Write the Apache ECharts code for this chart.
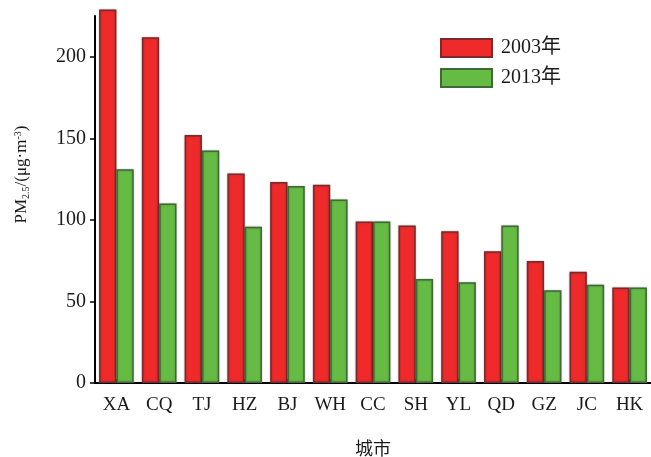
<!DOCTYPE html>
<html>
<head>
<meta charset="utf-8">
<script src="https://cdn.jsdelivr.net/npm/echarts@6/dist/echarts.min.js"></script>
<style>
  html, body { margin: 0; padding: 0; background: #fff; }
  #chart { width: 651px; height: 457px; }
</style>
</head>
<body>
<div id="chart"></div>
<script>
// PM2.5 annual mean by city, 2003 vs 2013 (μg·m⁻³)
const cities = ['XA', 'CQ', 'TJ', 'HZ', 'BJ', 'WH', 'CC', 'SH', 'YL', 'QD', 'GZ', 'JC', 'HK'];
const pm2003 = [229, 212, 152, 128.5, 123.3, 121.5, 99, 96.5, 93, 80.8, 74.8, 68.2, 58.6];
const pm2013 = [131, 110, 142.5, 95.8, 120.8, 112.5, 99, 63.8, 61.8, 96.6, 56.8, 60.3, 58.6];
const seriesNames = ['2003年', '2013年'];
const yTicks = [0, 50, 100, 150, 200];

const serif = '"Liberation Serif", "Times New Roman", "Noto Sans CJK SC", serif';
const textColor = '#1a1a1a';

const chart = echarts.init(document.getElementById('chart'), null, { renderer: 'canvas' });

const barStyle = (fill, border) => ({
  color: fill,
  borderColor: border,
  borderWidth: 1.5,
  shadowColor: 'rgba(0,0,0,0.25)',
  shadowBlur: 2
});

chart.setOption({
  animation: false,
  backgroundColor: '#fff',
  grid: { left: 95, right: 0, top: 16, bottom: 74, containLabel: false, outerBoundsMode: 'none' },
  legend: {
    orient: 'vertical',
    left: 440,
    top: 38,
    padding: 0,
    itemWidth: 51,
    itemHeight: 18,
    itemGap: 10,
    icon: 'rect',
    textStyle: { fontFamily: serif, fontSize: 20, color: textColor, padding: [0, 0, 0, 4] },
    data: seriesNames
  },
  xAxis: {
    type: 'category',
    data: cities,
    name: '城市',
    nameLocation: 'middle',
    nameGap: 56,
    nameTextStyle: { fontFamily: '"Noto Sans CJK SC", sans-serif', fontSize: 18, color: textColor },
    axisLine: { lineStyle: { color: '#000', width: 2 } },
    axisTick: { show: true, inside: true, alignWithLabel: true, length: 4, lineStyle: { color: '#000', width: 1.5 } },
    axisLabel: { fontFamily: serif, fontSize: 19, color: textColor, margin: 13, interval: 0, hideOverlap: false }
  },
  yAxis: {
    type: 'value',
    min: yTicks[0],
    max: 225,
    interval: yTicks[1] - yTicks[0],
    name: '{a|PM}{sub|2.5}{a|/(μg·m}{sup|-3}{a|)}',
    nameLocation: 'middle',
    nameRotate: 90,
    nameGap: 64,
    nameTextStyle: {
      color: textColor,
      padding: [0, 0, 0, 50],
      rich: {
        a: { fontFamily: serif, fontSize: 17, color: textColor },
        sub: { fontFamily: serif, fontSize: 10, color: textColor, verticalAlign: 'bottom', padding: [8, 0, 0, 0] },
        sup: { fontFamily: serif, fontSize: 10, color: textColor, verticalAlign: 'top', padding: [0, 0, 8, 0] }
      }
    },
    splitLine: { show: false },
    axisLine: { show: true, lineStyle: { color: '#000', width: 2 } },
    axisTick: { show: true, length: 5, lineStyle: { color: '#000', width: 1.5 } },
    axisLabel: { fontFamily: serif, fontSize: 20, color: textColor, margin: 9, showMaxLabel: false }
  },
  series: [
    {
      name: seriesNames[0],
      type: 'bar',
      data: pm2003,
      barGap: '0%',
      barCategoryGap: '19%',
      clip: false,
      itemStyle: barStyle('#ee2a2b', '#7a2a2a')
    },
    {
      name: seriesNames[1],
      type: 'bar',
      data: pm2013,
      clip: false,
      itemStyle: barStyle('#66bb45', '#3f6a35')
    }
  ]
});
</script>
</body>
</html>
